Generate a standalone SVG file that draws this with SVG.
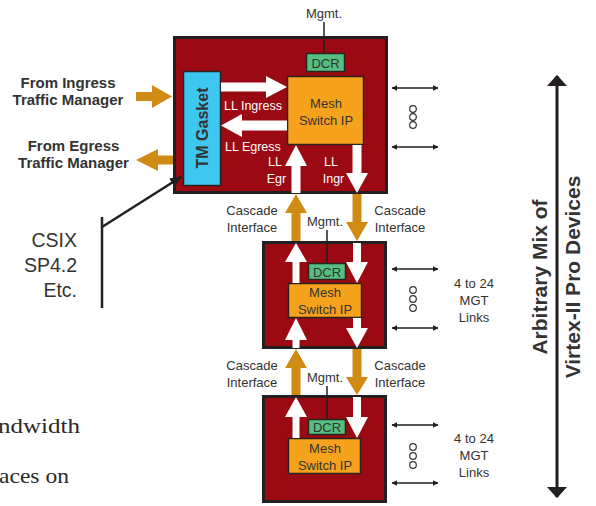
<svg xmlns="http://www.w3.org/2000/svg" width="596" height="506" viewBox="0 0 596 506">
  <style>
    .dev { fill: #9b0a12; stroke: #231f20; stroke-width: 3; }
    .mesh { fill: #f6a21d; stroke: #2b2320; stroke-width: 1.5; }
    .dcr { fill: #55bf82; stroke: #2b2320; stroke-width: 1.5; }
    .gasket { fill: #3ec7f1; stroke: #2b2320; stroke-width: 1.5; }
    .wa { fill: #ffffff; }
    .oa { fill: #d08b14; }
    .lbl { font-family: "Liberation Sans", Arial, sans-serif; fill: #333333; }
    .wt { font-family: "Liberation Sans", Arial, sans-serif; fill: #ffffff; font-size: 12.5px; }
    .sm { font-size: 13px; }
    .bold { font-weight: bold; }
    .thin { stroke: #231f20; stroke-width: 1.5; fill: none; }
    .dot { stroke: #333333; stroke-width: 1.2; fill: none; }
    .body { font-family: "Liberation Serif", "Times New Roman", serif; fill: #2a2a2a; font-size: 22px; }
  </style>
  <defs>
    <marker id="ah" viewBox="0 0 10 10" refX="9" refY="5" markerWidth="6" markerHeight="6" orient="auto-start-reverse" markerUnits="userSpaceOnUse">
      <path d="M0,0 L10,5 L0,10 Z" fill="#231f20"/>
    </marker>
    <marker id="ahb" viewBox="0 0 10 10" refX="9" refY="5" markerWidth="11" markerHeight="20" orient="auto-start-reverse" markerUnits="userSpaceOnUse" preserveAspectRatio="none">
      <path d="M0,0 L10,5 L0,10 Z" fill="#231f20"/>
    </marker>
    <marker id="ahc" viewBox="0 0 10 10" refX="9" refY="5" markerWidth="12" markerHeight="10" orient="auto" markerUnits="userSpaceOnUse" preserveAspectRatio="none">
      <path d="M0,0 L10,5 L0,10 Z" fill="#231f20"/>
    </marker>
  </defs>

  <!-- surrounding body text -->
  <text class="body" x="-2" y="433" textLength="82" lengthAdjust="spacingAndGlyphs">ndwidth</text>
  <text class="body" x="-1" y="483" textLength="70" lengthAdjust="spacingAndGlyphs">aces on</text>

  <!-- external labels -->
  <g id="ingress-label">
    <text class="lbl bold" font-size="15" x="68" y="88" text-anchor="middle">From Ingress</text>
    <text class="lbl bold" font-size="15" x="68" y="105" text-anchor="middle">Traffic Manager</text>
  </g>
  <g id="egress-label">
    <text class="lbl bold" font-size="15" x="73.5" y="151" text-anchor="middle">From Egress</text>
    <text class="lbl bold" font-size="15" x="73.5" y="168" text-anchor="middle">Traffic Manager</text>
  </g>
  <g id="csix-label">
    <text class="lbl" font-size="19.5" x="77" y="247" text-anchor="end">CSIX</text>
    <text class="lbl" font-size="19.5" x="77" y="272" text-anchor="end">SP4.2</text>
    <text class="lbl" font-size="19.5" x="77" y="297" text-anchor="end">Etc.</text>
  </g>

  <!-- device 1 -->
  <g id="device-1">
    <rect class="dev" x="174.5" y="37.5" width="212" height="155"/>
    <g id="tm-gasket">
      <rect class="gasket" x="183.5" y="71.5" width="37" height="114"/>
      <text class="lbl bold" font-size="16" fill="#222222" transform="translate(208,128) rotate(-90)" text-anchor="middle">TM Gasket</text>
    </g>
    <g id="mesh-1">
      <rect class="mesh" x="287.5" y="76.5" width="76" height="68"/>
      <text class="lbl sm" x="326" y="108" text-anchor="middle">Mesh</text>
      <text class="lbl sm" x="326" y="125" text-anchor="middle">Switch IP</text>
    </g>
    <g id="dcr-1">
      <rect class="dcr" x="306.5" y="53.5" width="38" height="18"/>
      <text class="lbl sm" x="325.5" y="67.5" text-anchor="middle">DCR</text>
    </g>
    <text class="wt" x="224" y="110">LL Ingress</text>
    <text class="wt" x="225" y="151">LL Egress</text>
    <text class="wt" x="275" y="166" text-anchor="middle">LL</text>
    <text class="wt" x="276.5" y="183" text-anchor="middle">Egr</text>
    <text class="wt" x="331" y="166" text-anchor="middle">LL</text>
    <text class="wt" x="333.5" y="183" text-anchor="middle">Ingr</text>
  </g>

  <!-- device 2 -->
  <g id="device-2">
    <rect class="dev" x="263.5" y="242.5" width="122" height="105"/>
    <g id="mesh-2">
      <rect class="mesh" x="288.5" y="283.5" width="73" height="34"/>
      <text class="lbl sm" x="325" y="297" text-anchor="middle">Mesh</text>
      <text class="lbl sm" x="325" y="314" text-anchor="middle">Switch IP</text>
    </g>
    <g id="dcr-2">
      <rect class="dcr" x="308.5" y="263.5" width="37" height="16"/>
      <text class="lbl sm" x="327" y="276.5" text-anchor="middle">DCR</text>
    </g>
  </g>

  <!-- device 3 -->
  <g id="device-3">
    <rect class="dev" x="263.5" y="396.5" width="122" height="105"/>
    <g id="mesh-3">
      <rect class="mesh" x="288.5" y="438.5" width="72" height="35"/>
      <text class="lbl sm" x="325" y="453" text-anchor="middle">Mesh</text>
      <text class="lbl sm" x="325" y="470" text-anchor="middle">Switch IP</text>
    </g>
    <g id="dcr-3">
      <rect class="dcr" x="308.5" y="419.5" width="37" height="15"/>
      <text class="lbl sm" x="327" y="432" text-anchor="middle">DCR</text>
    </g>
  </g>

  <!-- management labels -->
  <g id="mgmt-labels">
    <text class="lbl sm" x="324" y="18" text-anchor="middle">Mgmt.</text>
    <text class="lbl sm" x="325" y="226" text-anchor="middle">Mgmt.</text>
    <text class="lbl sm" x="325" y="382" text-anchor="middle">Mgmt.</text>
  </g>

  <!-- cascade labels -->
  <g id="cascade-labels">
    <text class="lbl sm" x="252" y="215" text-anchor="middle">Cascade</text>
    <text class="lbl sm" x="252" y="232" text-anchor="middle">Interface</text>
    <text class="lbl sm" x="400" y="215" text-anchor="middle">Cascade</text>
    <text class="lbl sm" x="400" y="232" text-anchor="middle">Interface</text>
    <text class="lbl sm" x="252" y="370" text-anchor="middle">Cascade</text>
    <text class="lbl sm" x="252" y="387" text-anchor="middle">Interface</text>
    <text class="lbl sm" x="400" y="370" text-anchor="middle">Cascade</text>
    <text class="lbl sm" x="400" y="387" text-anchor="middle">Interface</text>
  </g>

  <!-- MGT link labels -->
  <g id="mgt-labels">
    <text class="lbl sm" x="474" y="288" text-anchor="middle">4 to 24</text>
    <text class="lbl sm" x="474" y="305" text-anchor="middle">MGT</text>
    <text class="lbl sm" x="474" y="322" text-anchor="middle">Links</text>
    <text class="lbl sm" x="474" y="443" text-anchor="middle">4 to 24</text>
    <text class="lbl sm" x="474" y="460" text-anchor="middle">MGT</text>
    <text class="lbl sm" x="474" y="477" text-anchor="middle">Links</text>
  </g>

  <!-- side legend -->
  <g id="device-mix-label">
    <text class="lbl bold" font-size="21" transform="translate(547,277) rotate(-90)" text-anchor="middle">Arbitrary Mix of</text>
    <text class="lbl bold" font-size="21" transform="translate(580,277) rotate(-90)" text-anchor="middle">Virtex-II Pro Devices</text>
  </g>

  <g id="connectors">
    <!-- traffic manager ports -->
    <path class="oa" d="M136,92 H152 V85 L172,96.5 L152,108 V101 H136 Z"/>
    <path class="oa" d="M173,155.5 H158 V149 L136,160 L158,171 V164.5 H173 Z"/>

    <!-- gasket to mesh -->
    <path class="wa" d="M221,82.5 H266 V76 L287,87 L266,98 V91.5 H221 Z"/>
    <path class="wa" d="M287,120.5 H242 V114 L221,125.5 L242,137 V130.5 H287 Z"/>

    <!-- device 1 cascade ports -->
    <path class="wa" d="M291.5,193 V166 H285 L296,145 L307,166 H300.5 V193 Z"/>
    <path class="wa" d="M352.5,145 V173 H346 L357,193 L368,173 H361.5 V145 Z"/>

    <!-- cascade 1 -->
    <path class="oa" d="M291.5,241 V213 H285 L296,194 L307,213 H300.5 V241 Z"/>
    <path class="oa" d="M352.5,194 V222 H346 L357,241 L368,222 H361.5 V194 Z"/>

    <!-- device 2 internal -->
    <path class="wa" d="M292.5,283 V262 H285 L296,243 L307,262 H299.5 V283 Z"/>
    <path class="wa" d="M353,243 V262 H346 L357,283 L368,262 H361 V243 Z"/>
    <path class="wa" d="M292.5,348 V340 H285 L296,318 L307,340 H299.5 V348 Z"/>
    <path class="wa" d="M353,318 V328 H346 L357,348 L368,328 H361 V318 Z"/>

    <!-- cascade 2 -->
    <path class="oa" d="M291.5,395 V368 H285 L296,349 L307,368 H300.5 V395 Z"/>
    <path class="oa" d="M352.5,349 V377 H346 L357,395 L368,377 H361.5 V349 Z"/>

    <!-- device 3 internal -->
    <path class="wa" d="M292.5,438 V417 H285 L296,397 L307,417 H299.5 V438 Z"/>
    <path class="wa" d="M353,397 V417 H346 L357,438 L368,417 H361 V397 Z"/>

    <!-- management lines -->
    <line class="thin" x1="324" y1="22" x2="324" y2="53"/>
    <line class="thin" x1="327" y1="230" x2="327" y2="263"/>
    <line class="thin" x1="327" y1="386" x2="327" y2="419"/>

    <!-- MGT links -->
    <line class="thin" x1="392" y1="88" x2="438" y2="88" marker-start="url(#ah)" marker-end="url(#ah)"/>
    <line class="thin" x1="392" y1="147" x2="438" y2="147" marker-start="url(#ah)" marker-end="url(#ah)"/>
    <line class="thin" x1="392" y1="269" x2="438" y2="269" marker-start="url(#ah)" marker-end="url(#ah)"/>
    <line class="thin" x1="392" y1="328" x2="438" y2="328" marker-start="url(#ah)" marker-end="url(#ah)"/>
    <line class="thin" x1="392" y1="425" x2="438" y2="425" marker-start="url(#ah)" marker-end="url(#ah)"/>
    <line class="thin" x1="392" y1="483" x2="438" y2="483" marker-start="url(#ah)" marker-end="url(#ah)"/>
    <circle class="dot" cx="413" cy="109" r="3.3"/>
    <circle class="dot" cx="413" cy="117" r="3.3"/>
    <circle class="dot" cx="413" cy="125" r="3.3"/>
    <circle class="dot" cx="413" cy="290" r="3.3"/>
    <circle class="dot" cx="413" cy="299" r="3.3"/>
    <circle class="dot" cx="413" cy="308" r="3.3"/>
    <circle class="dot" cx="413" cy="447" r="3.3"/>
    <circle class="dot" cx="413" cy="456" r="3.3"/>
    <circle class="dot" cx="413" cy="465" r="3.3"/>

    <!-- device span -->
    <line x1="557" y1="76" x2="557" y2="497" stroke="#231f20" stroke-width="3" marker-start="url(#ahb)" marker-end="url(#ahb)"/>

    <!-- CSIX pointer -->
    <line x1="102" y1="217" x2="102" y2="308" stroke="#231f20" stroke-width="2.5"/>
    <line x1="102" y1="227" x2="181" y2="177" stroke="#231f20" stroke-width="2.5" marker-end="url(#ahc)"/>
  </g>
</svg>
